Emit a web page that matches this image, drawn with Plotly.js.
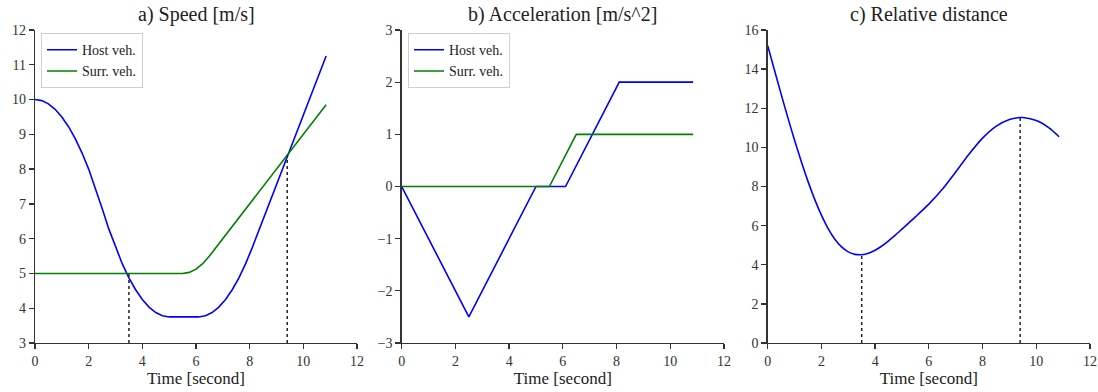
<!DOCTYPE html>
<html>
<head>
<meta charset="utf-8">
<script src="https://cdn.plot.ly/plotly-3.0.1.min.js"></script>
<style>html,body{margin:0;padding:0;background:#fff;}#chart{width:1098px;height:392px;}</style>
</head>
<body>
<div id="chart"></div>
<script>
// ---- data ----
const hostSpeedTime = [0,0.25,0.5,0.75,1,1.25,1.5,1.75,2,2.25,2.5,2.75,3,3.25,3.5,3.75,4,4.25,4.5,4.75,5,6.1,6.35,6.6,6.85,7.1,7.35,7.6,7.85,8.1,10.85];
const hostSpeed = [10,9.969,9.875,9.719,9.5,9.219,8.875,8.469,8.0,7.469,6.875,6.281,5.75,5.281,4.875,4.531,4.25,4.031,3.875,3.781,3.75,3.75,3.781,3.875,4.031,4.25,4.531,4.875,5.281,5.75,11.25];
const surrSpeedTime = [0,5.5,5.75,6,6.25,6.5,10.85];
const surrSpeed = [5,5,5.031,5.125,5.281,5.5,9.85];

const hostAccTime = [0,2.5,5,6.1,8.1,10.85];
const hostAcc = [0,-2.5,0,0,2,2];
const surrAccTime = [0,5.5,6.5,10.85];
const surrAcc = [0,0,1,1];

const distTime = [0,0.25,0.5,0.75,1,1.25,1.5,1.75,2,2.25,2.5,2.75,3,3.25,3.5,3.75,4,4.25,4.5,4.75,5,5.5,6,6.5,7,7.5,8,8.5,9,9.4,9.5,10,10.5,10.85];
const relDist = [15.2,13.953,12.721,11.52,10.367,9.276,8.262,7.343,6.533,5.848,5.304,4.911,4.658,4.531,4.512,4.588,4.742,4.958,5.221,5.515,5.825,6.45,7.096,7.856,8.745,9.66,10.474,11.074,11.424,11.524,11.524,11.374,10.974,10.545];

const markTimes = [3.5, 9.4];
const markSpeeds = [5.0, 8.4];
const markDists = [4.51, 11.52];

const panelTitles = ['a) Speed [m/s]', 'b) Acceleration [m/s^2]', 'c) Relative distance'];
const seriesNames = ['Host veh.', 'Surr. veh.'];
const xTitle = 'Time [second]';

// ---- styling ----
const BLUE = '#0000ff', GREEN = '#008000', AX = '#333333';
const FONT = 'Liberation Serif';
const lw = 1.6;

const traces = [];
// panel a
traces.push({x: hostSpeedTime, y: hostSpeed, xaxis:'x', yaxis:'y', mode:'lines', name: seriesNames[0], line:{color:BLUE, width:lw}, legend:'legend'});
traces.push({x: surrSpeedTime, y: surrSpeed, xaxis:'x', yaxis:'y', mode:'lines', name: seriesNames[1], line:{color:GREEN, width:lw}, legend:'legend'});
markTimes.forEach((t,i)=>{
  traces.push({x:[t,t], y:[3, markSpeeds[i]], xaxis:'x', yaxis:'y', mode:'lines', showlegend:false, line:{color:'#222', width:1.5, dash:'dot'}});
});
// panel b
traces.push({x: hostAccTime, y: hostAcc, xaxis:'x2', yaxis:'y2', mode:'lines', name: seriesNames[0], line:{color:BLUE, width:lw}, legend:'legend2'});
traces.push({x: surrAccTime, y: surrAcc, xaxis:'x2', yaxis:'y2', mode:'lines', name: seriesNames[1], line:{color:GREEN, width:lw}, legend:'legend2'});
// panel c
traces.push({x: distTime, y: relDist, xaxis:'x3', yaxis:'y3', mode:'lines', showlegend:false, line:{color:BLUE, width:lw, shape:'spline', smoothing:0.6}});
markTimes.forEach((t,i)=>{
  traces.push({x:[t,t], y:[0, markDists[i]], xaxis:'x3', yaxis:'y3', mode:'lines', showlegend:false, line:{color:'#222', width:1.5, dash:'dot'}});
});

const W = 1098;
const doms = [[35/W, 357/W], [401.7/W, 724/W], [767.7/W, 1090/W]];

function xax(dom, anchor){
  return {domain: dom, anchor: anchor, range:[0,12], dtick:2, tick0:0, showgrid:false, zeroline:false,
    showline:true, linecolor:AX, linewidth:1.3, ticks:'outside', ticklen:5, tickwidth:1.3, tickcolor:AX,
    tickfont:{family:FONT, size:14, color:AX},
    title:{text:xTitle, font:{family:FONT, size:17, color:'#222'}, standoff:3}};
}
function yax(range, dtick, anchor){
  return {domain:[0,1], anchor: anchor, range: range, dtick: dtick, showgrid:false, zeroline:false,
    showline:true, linecolor:AX, linewidth:1.3, ticks:'outside', ticklen:5, tickwidth:1.3, tickcolor:AX,
    tickfont:{family:FONT, size:14, color:AX}};
}

const legendStyle = {bgcolor:'#ffffff', bordercolor:'#d0d0d0', borderwidth:1,
  font:{family:FONT, size:14, color:'#222'}, yanchor:'top', xanchor:'left', tracegroupgap:0, itemwidth:30};

const layout = {
  width: 1098, height: 392,
  margin:{l:0, r:0, t:30, b:49},
  paper_bgcolor:'#ffffff', plot_bgcolor:'#ffffff',
  font:{family:FONT, color:'#222'},
  xaxis: xax(doms[0], 'y'),
  yaxis: yax([3,12], 1, 'x'),
  xaxis2: xax(doms[1], 'y2'),
  yaxis2: yax([-3,3], 1, 'x2'),
  xaxis3: xax(doms[2], 'y3'),
  yaxis3: yax([0,16], 2, 'x3'),
  legend: Object.assign({x: 41/W, y: 0.99}, legendStyle),
  legend2: Object.assign({x: 408/W, y: 0.99}, legendStyle),
  annotations: panelTitles.map((t,i)=>({
    text:t, xref:'paper', yref:'paper', x:(doms[i][0]+doms[i][1])/2, y:1, yshift:2,
    xanchor:'center', yanchor:'bottom', showarrow:false,
    font:{family:FONT, size:20, color:'#222'}
  })),
  showlegend:true
};

Plotly.newPlot('chart', traces, layout, {displayModeBar:false, staticPlot:true});
</script>
</body>
</html>
